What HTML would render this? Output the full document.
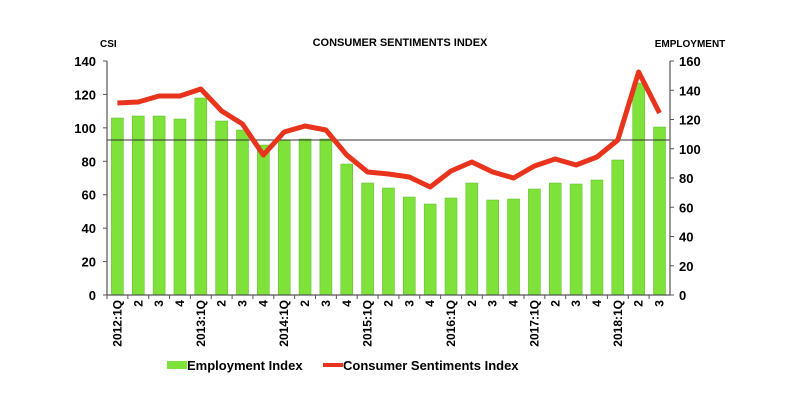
<!DOCTYPE html>
<html><head><style>body{margin:0;background:#fff}</style></head><body>
<svg width="800" height="400" xmlns="http://www.w3.org/2000/svg" font-family="Liberation Sans, sans-serif">
<rect width="800" height="400" fill="#fff"/>
<text x="400" y="46" text-anchor="middle" font-size="11" font-weight="bold">CONSUMER SENTIMENTS INDEX</text>
<text x="100" y="47" font-size="10" font-weight="bold">CSI</text>
<text x="690" y="47" text-anchor="middle" font-size="10" font-weight="bold">EMPLOYMENT</text>
<g id="bars" fill="#7ee23a" stroke="#5cb82a" stroke-width="0.5"></g>
<line x1="107" y1="140" x2="670" y2="140" stroke="#333" stroke-width="1"/>
<g stroke="#555" stroke-width="1.2">
<line x1="107" y1="61" x2="107" y2="295"/><line x1="670" y1="61" x2="670" y2="295"/>
<line x1="107" y1="295" x2="670" y2="295"/>
</g>
<g id="ticks" stroke="#555"></g>
<g font-size="13" font-weight="bold" id="yl"></g>
<polyline id="ln" fill="none" stroke="#e8341c" stroke-width="5" stroke-linejoin="round"/>
<g id="xl" font-size="12" font-weight="bold"></g>
<rect x="167" y="361" width="20" height="8" fill="#7ee23a"/>
<text x="187" y="370" font-size="13" font-weight="bold">Employment Index</text>
<rect x="323" y="363" width="20" height="4" fill="#e8341c"/>
<text x="343" y="370" font-size="13" font-weight="bold">Consumer Sentiments Index</text>
</svg>
<script>
const ns="http://www.w3.org/2000/svg";
function el(t,a,p,txt){const e=document.createElementNS(ns,t);for(const k in a)e.setAttribute(k,a[k]);if(txt!==undefined)e.textContent=txt;document.getElementById(p).appendChild(e);return e;}
const bt=[118,116,116,119,98,121,130,145,140,139,139,164,183,188,197,204,198,183,200,199,189,183,184,180,160,83,127];
const lt=[103,102,96,96,89,111,124,155,132,126,130,155,172,174,177,187,171,162,172,178,166,159,165,157,140,72,113];
const sp=20.85,cx=i=>107+10.4+sp*i;
let pts=[];
const lab=["2012:1Q","2","3","4","2013:1Q","2","3","4","2014:1Q","2","3","4","2015:1Q","2","3","4","2016:1Q","2","3","4","2017:1Q","2","3","4","2018:1Q","2","3"];
for(let i=0;i<27;i++){
 el("rect",{x:cx(i)-6,y:bt[i],width:12,height:295-bt[i]},"bars");
 pts.push(cx(i)+","+lt[i]);
 el("line",{x1:107+sp*i,y1:295,x2:107+sp*i,y2:299},"ticks");
 const x=cx(i)+4;
 el("text",{x:x,y:300,"text-anchor":"end",transform:`rotate(-90 ${x} 300)`},"xl",lab[i]);
}
document.getElementById("ln").setAttribute("points",pts.join(" "));
for(let k=0;k<8;k++){const y=295-k*234/7;
 el("text",{x:96,y:y+5,"text-anchor":"end"},"yl",String(k*20));
 el("line",{x1:103,y1:y,x2:107,y2:y},"ticks");}
for(let k=0;k<9;k++){const y=295-k*234/8;el("line",{x1:670,y1:y,x2:674,y2:y},"ticks");
 el("text",{x:679,y:y+5},"yl",String(k*20));}
</script>
</body></html>
